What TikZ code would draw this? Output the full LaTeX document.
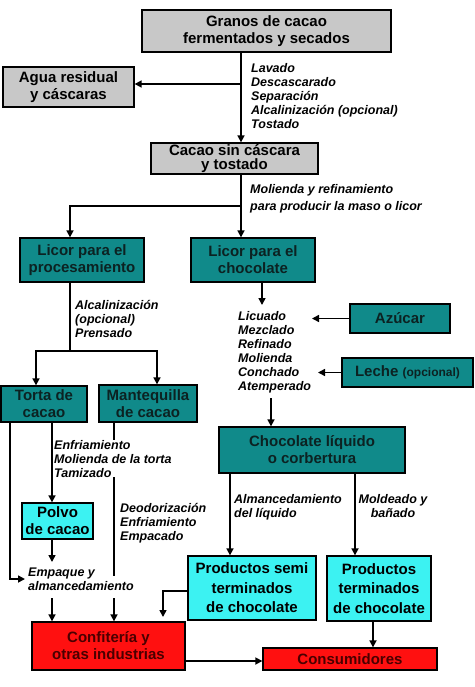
\documentclass[tikz,border=0pt]{standalone}
\usepackage{fontspec}
\setmainfont{Liberation Sans}
\usetikzlibrary{arrows.meta}
\definecolor{boxgray}{HTML}{C8C8C8}
\definecolor{tealfill}{HTML}{108A8A}
\definecolor{tealtext}{HTML}{0C2222}
\definecolor{cyanfill}{HTML}{3CF2F2}
\definecolor{redfill}{HTML}{FF1010}
\definecolor{redtext}{HTML}{4A0000}
\begin{document}
\begin{tikzpicture}[x=1pt,y=-1pt,
  box/.style={draw=black, line width=1.3pt, inner sep=0pt, align=center,
    font=\fontsize{15}{17}\selectfont\bfseries, text=black},
  graybox/.style={box, fill=boxgray},
  tealbox/.style={box, fill=tealfill, text=tealtext},
  cyanbox/.style={box, fill=cyanfill},
  redbox/.style={box, fill=redfill, text=redtext},
  lbl/.style={anchor=north west, inner sep=0pt, align=left,
    font=\fontsize{12.5}{14}\selectfont\bfseries\itshape},
  arr/.style={line width=1.6pt, -{Triangle[length=7pt,width=7pt]}},
  ln/.style={line width=1.6pt}]
\useasboundingbox (0,0) rectangle (474,687);
\fill[white] (0,0) rectangle (474,687);

% boxes
\node[graybox, minimum width=249pt, minimum height=42pt] (granos) at (266.5,31) {Granos de cacao\\fermentados y secados};
\node[graybox, minimum width=131pt, minimum height=40pt] (agua) at (68.5,87) {Agua residual\\y c\'ascaras};
\node[graybox, minimum width=167pt, minimum height=31pt, font=\fontsize{15}{14}\selectfont\bfseries] (cacao) at (234.5,158.5) {Cacao sin c\'ascara\\y tostado};
\node[tealbox, minimum width=124pt, minimum height=44pt] (licproc) at (82,260) {Licor para el\\procesamiento};
\node[tealbox, minimum width=124pt, minimum height=44pt] (licchoc) at (253,260) {Licor para el\\chocolate};
\node[tealbox, minimum width=100pt, minimum height=29pt] (azucar) at (400,318.5) {Az\'ucar};
\node[tealbox, minimum width=131pt, minimum height=29pt] (leche) at (407.5,372.5) {Leche {\fontsize{12}{14}\selectfont(opcional)}};
\node[tealbox, minimum width=86pt, minimum height=36pt] (torta) at (44,404) {Torta de\\cacao};
\node[tealbox, minimum width=98pt, minimum height=37pt] (mant) at (148,403.5) {Mantequilla\\de cacao};
\node[tealbox, minimum width=186pt, minimum height=46pt] (chocliq) at (312,450) {Chocolate l\'iquido\\o corbertura};
\node[cyanbox, minimum width=71pt, minimum height=36pt] (polvo) at (57.5,521) {Polvo\\de cacao};
\node[cyanbox, minimum width=128pt, minimum height=64pt, font=\fontsize{15}{19.5}\selectfont\bfseries] (semi) at (252,588) {Productos semi\\terminados\\de chocolate};
\node[cyanbox, minimum width=104pt, minimum height=65pt, font=\fontsize{15}{19.5}\selectfont\bfseries] (term) at (379,588.5) {Productos\\terminados\\de chocolate};
\node[redbox, minimum width=153pt, minimum height=48pt] (conf) at (108.5,646) {Confiter\'ia y\\otras industrias};
\node[redbox, minimum width=174pt, minimum height=22pt] (cons) at (350,659) {Consumidores};

% connectors
\coordinate (j1) at (241,84);
\draw[arr] (j1 |- granos.south) -- (j1 |- cacao.north);
\draw[arr] (j1) -- (j1 -| agua.east);

\coordinate (j2) at (241,206);
\coordinate (j2l) at (70,206);
\draw[arr] (j2 |- cacao.south) -- (j2 |- licchoc.north);
\draw[arr] (j2) -- (j2l) -- (j2l |- licproc.north);

\coordinate (j3) at (70,351);
\coordinate (j3l) at (36,351);
\coordinate (j3r) at (157,351);
\draw[ln] (j3 |- licproc.south) -- (j3);
\draw[arr] (j3) -- (j3l) -- (j3l |- torta.north);
\draw[arr] (j3) -- (j3r) -- (j3r |- mant.north);

\coordinate (c1) at (262,305);
\draw[arr] (c1 |- licchoc.south) -- (c1);
\coordinate (az) at (312,318.5);
\draw[arr] (azucar.west) -- (az);
\coordinate (le) at (318,372.5);
\draw[arr] (leche.west) -- (le);
\coordinate (c2) at (271,398);
\draw[arr] (c2) -- (c2 |- chocliq.north);

\coordinate (t1) at (10,579);
\coordinate (t1e) at (25,579);
\draw[arr] (t1 |- torta.south) -- (t1) -- (t1e);
\coordinate (t2) at (52,450);
\draw[arr] (t2 |- torta.south) -- (t2 |- polvo.north);
\coordinate (p1) at (52,562);
\draw[arr] (p1 |- polvo.south) -- (p1);
\coordinate (p2) at (52,598);
\draw[arr] (p2) -- (p2 |- conf.north);

\coordinate (xm) at (114,576);
\draw[ln] (xm |- mant.south) -- (xm);
\coordinate (xm2) at (114,598);
\draw[arr] (xm2) -- (xm2 |- conf.north);

\coordinate (s1) at (163,591);
\coordinate (s2) at (163,617);
\draw[arr] (semi.west |- s1) -- (s1) -- (s2);

\coordinate (q1) at (230,500);
\draw[arr] (q1 |- chocliq.south) -- (q1 |- semi.north);
\coordinate (q2) at (355,500);
\draw[arr] (q2 |- chocliq.south) -- (q2 |- term.north);
\coordinate (r1) at (373,630);
\draw[arr] (r1 |- term.south) -- (r1 |- cons.north);
\coordinate (k) at (220,661);
\draw[arr] (conf.east |- k) -- (cons.west |- k);

% labels
\node[lbl] (l1) at (251,63) {Lavado\\Descascarado\\Separaci\'on\\Alcalinizaci\'on (opcional)\\Tostado};
\node[lbl, font=\fontsize{12.5}{17}\selectfont\bfseries\itshape] (l2) at (250,184) {Molienda y refinamiento\\para producir la maso o licor};
\node[lbl] (l3) at (75,300) {Alcalinizaci\'on\\(opcional)\\Prensado};
\node[lbl] (l4) at (238,311) {Licuado\\Mezclado\\Refinado\\Molienda\\Conchado\\Atemperado};
\node[lbl, fill=white] (l5) at (54,440) {Enfriamiento\\Molienda de la torta\\Tamizado};
\node[lbl] (l6) at (120,503) {Deodorizaci\'on\\Enfriamiento\\Empacado};
\node[lbl] (l7) at (234,494) {Almancedamiento\\del l\'iquido};
\node[lbl, anchor=north, align=center] (l8) at (393,494) {Moldeado y\\ba\~nado};
\node[lbl] (l9) at (28,568) {Empaque y\\almancedamiento};
\end{tikzpicture}
\end{document}
